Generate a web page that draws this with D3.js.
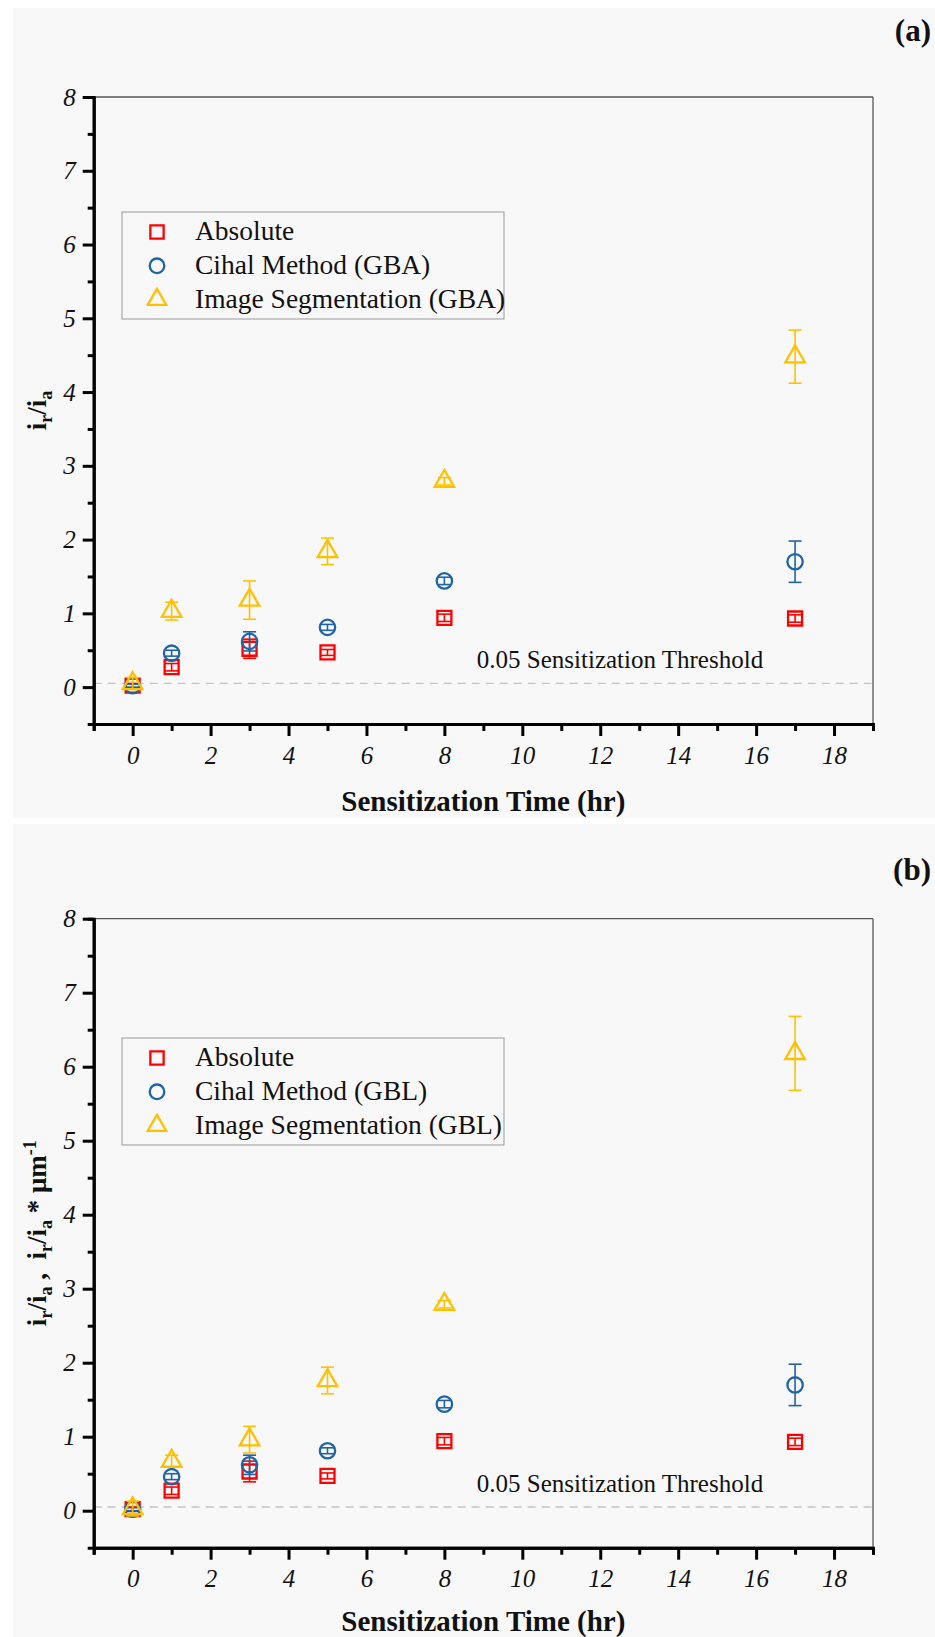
<!DOCTYPE html>
<html>
<head>
<meta charset="utf-8">
<script src="https://cdn.jsdelivr.net/npm/d3@7"></script>
<style>
  body { margin: 0; background: #ffffff; }
  svg { display: block; }
</style>
</head>
<body>
<div id="chart"></div>
<script>
// sensitization times (hr)
const times = [0, 1, 3, 5, 8, 17];

// panel (a) - GBA
const absoluteA = [0.02, 0.27, 0.52, 0.47, 0.94, 0.93];
const absoluteAErr = [0.03, 0.05, 0.13, 0.04, 0.05, 0.05];
const cihalA = [0.02, 0.46, 0.62, 0.81, 1.44, 1.70];
const cihalAErr = [0.02, 0.04, 0.13, 0.04, 0.05, 0.28];
const segA = [0.05, 1.03, 1.18, 1.84, 2.79, 4.48];
const segAErr = [0.08, 0.12, 0.26, 0.18, 0.05, 0.36];

// panel (b) - GBL
const absoluteB = [0.02, 0.27, 0.53, 0.47, 0.94, 0.93];
const absoluteBErr = [0.03, 0.05, 0.14, 0.04, 0.05, 0.05];
const cihalB = [0.02, 0.46, 0.62, 0.81, 1.44, 1.70];
const cihalBErr = [0.02, 0.04, 0.13, 0.04, 0.05, 0.28];
const segB = [0.03, 0.67, 0.96, 1.76, 2.79, 6.18];
const segBErr = [0.1, 0.08, 0.18, 0.18, 0.05, 0.5];

const xTicks = [0, 2, 4, 6, 8, 10, 12, 14, 16, 18];
const yTicks = [0, 1, 2, 3, 4, 5, 6, 7, 8];
const threshold = 0.05;
const thresholdLabel = '0.05 Sensitization Threshold';
const xTitle = 'Sensitization Time (hr)';

const W = 935, H = 1637;
const serif = "'Liberation Serif', 'Times New Roman', serif";

const svg = d3.select('#chart').append('svg')
  .attr('width', W)
  .attr('height', H)
  .style('font-family', serif);

svg.append('rect').attr('width', W).attr('height', H).attr('fill', '#ffffff');
svg.append('rect').attr('x', 13).attr('y', 8).attr('width', W - 13).attr('height', 810).attr('fill', '#f8f8f8');
svg.append('rect').attr('x', 13).attr('y', 824).attr('width', W - 13).attr('height', H - 824).attr('fill', '#f8f8f8');

const colors = { abs: '#ff0000', cihal: '#1f65a6', seg: '#ffc000' };

function drawPanel(p) {
  const left = 93.7, right = 873;
  const x = d3.scaleLinear().domain([-1, 19]).range([left, right]);
  const y = d3.scaleLinear().domain([-0.5, 8]).range([p.bottom, p.top]);

  const g = svg.append('g');

  // threshold line
  g.append('line')
    .attr('x1', left).attr('x2', right)
    .attr('y1', y(threshold)).attr('y2', y(threshold))
    .style('stroke', '#c4c4c4')
    .style('stroke-width', 1.3)
    .style('stroke-dasharray', '8 6');

  g.append('text')
    .attr('x', 620)
    .attr('y', y(threshold) - 15)
    .attr('text-anchor', 'middle')
    .style('font-size', '25px')
    .style('fill', '#111')
    .text(thresholdLabel);

  // frame: thin top/right
  g.append('line').attr('x1', left).attr('x2', right).attr('y1', p.top).attr('y2', p.top)
    .style('stroke', '#555').style('stroke-width', 1.3);
  g.append('line').attr('x1', right).attr('x2', right).attr('y1', p.top).attr('y2', p.bottom)
    .style('stroke', '#555').style('stroke-width', 1.3);

  // bottom axis
  const xAxis = g.append('g')
    .attr('transform', `translate(0, ${p.bottom})`)
    .call(d3.axisBottom(x).tickValues(xTicks).tickSize(12).tickSizeOuter(0).tickPadding(10));
  xAxis.append('g')
    .call(d3.axisBottom(x).tickValues(d3.range(-1, 20, 2)).tickSize(7).tickFormat(''));

  // left axis
  const yAxis = g.append('g')
    .attr('transform', `translate(${left}, 0)`)
    .call(d3.axisLeft(y).tickValues(yTicks).tickSize(11).tickSizeOuter(0).tickPadding(7));
  yAxis.append('g')
    .call(d3.axisLeft(y).tickValues(d3.range(0.5, 8, 1)).tickSize(6).tickFormat(''));

  g.selectAll('.domain').style('stroke', '#000').style('stroke-width', 3);
  g.selectAll('.tick line').style('stroke', '#000').style('stroke-width', 3);
  g.selectAll('.tick text')
    .style('font-family', serif)
    .style('font-style', 'italic')
    .style('font-size', '25px')
    .style('fill', '#111');

  // error bars + markers
  p.series.forEach(s => {
    const pts = times.map((t, i) => ({ t: t, v: s.values[i], e: s.errors[i] }));
    const eg = g.append('g').style('stroke', s.color).style('stroke-width', 1.6).style('fill', 'none');
    eg.selectAll('line.stem').data(pts).enter().append('line')
      .attr('x1', d => x(d.t)).attr('x2', d => x(d.t))
      .attr('y1', d => y(d.v - d.e)).attr('y2', d => y(d.v + d.e));
    [-1, 1].forEach(sign => {
      eg.selectAll(null).data(pts).enter().append('line')
        .attr('x1', d => x(d.t) - 6.5).attr('x2', d => x(d.t) + 6.5)
        .attr('y1', d => y(d.v + sign * d.e)).attr('y2', d => y(d.v + sign * d.e));
    });
    g.selectAll(null).data(pts).enter().append('path')
      .attr('transform', d => `translate(${x(d.t)}, ${y(d.v)})`)
      .attr('d', d3.symbol().type(s.symbol).size(s.size))
      .style('fill', 'none')
      .style('stroke', s.color)
      .style('stroke-width', 2.3);
  });

  // legend
  const lg = g.append('g').attr('transform', `translate(122, ${p.legendTop})`);
  lg.append('rect')
    .attr('width', 382).attr('height', 107)
    .style('fill', 'none').style('stroke', '#999').style('stroke-width', 1);
  p.series.forEach((s, i) => {
    const cy = 20 + i * 33.8;
    lg.append('path')
      .attr('transform', `translate(35, ${cy})`)
      .attr('d', d3.symbol().type(s.symbol).size(s.size * 0.9))
      .style('fill', 'none').style('stroke', s.color).style('stroke-width', 2.3);
    lg.append('text')
      .attr('x', 73).attr('y', cy + 8)
      .style('font-size', '27.5px')
      .style('fill', '#111')
      .text(s.name);
  });

  // axis titles
  g.append('text')
    .attr('x', (left + right) / 2)
    .attr('y', p.bottom + p.titleOffset)
    .attr('text-anchor', 'middle')
    .style('font-size', '29px')
    .style('font-weight', 'bold')
    .style('fill', '#111')
    .text(xTitle);

  const yl = g.append('text')
    .attr('transform', `translate(46, ${(p.top + p.bottom) / 2}) rotate(-90)`)
    .attr('text-anchor', 'middle')
    .style('font-size', '27px')
    .style('font-weight', 'bold')
    .style('fill', '#111');
  p.yLabel.forEach(part => {
    yl.append('tspan')
      .attr('dy', part.dy || 0)
      .style('font-size', part.small ? '18px' : '27px')
      .text(part.t);
  });

  g.append('text')
    .attr('x', 931)
    .attr('y', p.tagY)
    .attr('text-anchor', 'end')
    .style('font-size', '31px')
    .style('font-weight', 'bold')
    .style('fill', '#111')
    .text(p.tag);
}

drawPanel({
  top: 97, bottom: 724, tag: '(a)', tagY: 41, legendTop: 212, titleOffset: 87,
  series: [
    { name: 'Absolute', values: absoluteA, errors: absoluteAErr, color: colors.abs, symbol: d3.symbolSquare, size: 196 },
    { name: 'Cihal Method (GBA)', values: cihalA, errors: cihalAErr, color: colors.cihal, symbol: d3.symbolCircle, size: 185 },
    { name: 'Image Segmentation (GBA)', values: segA, errors: segAErr, color: colors.seg, symbol: d3.symbolTriangle, size: 165 }
  ],
  yLabel: [
    { t: 'i' }, { t: 'r', small: true, dy: 6 }, { t: '/i', dy: -6 }, { t: 'a', small: true, dy: 6 }
  ]
});

drawPanel({
  top: 918.7, bottom: 1547.7, tag: '(b)', tagY: 880, legendTop: 1038, titleOffset: 83,
  series: [
    { name: 'Absolute', values: absoluteB, errors: absoluteBErr, color: colors.abs, symbol: d3.symbolSquare, size: 196 },
    { name: 'Cihal Method (GBL)', values: cihalB, errors: cihalBErr, color: colors.cihal, symbol: d3.symbolCircle, size: 185 },
    { name: 'Image Segmentation (GBL)', values: segB, errors: segBErr, color: colors.seg, symbol: d3.symbolTriangle, size: 165 }
  ],
  yLabel: [
    { t: 'i' }, { t: 'r', small: true, dy: 6 }, { t: '/i', dy: -6 }, { t: 'a', small: true, dy: 6 },
    { t: '\u00a0,\u00a0\u00a0i', dy: -6 }, { t: 'r', small: true, dy: 6 }, { t: '/i', dy: -6 }, { t: 'a', small: true, dy: 6 },
    { t: '\u00a0*\u00a0\u03bcm', dy: -6 }, { t: '-1', small: true, dy: -10 }
  ]
});
</script>
</body>
</html>
